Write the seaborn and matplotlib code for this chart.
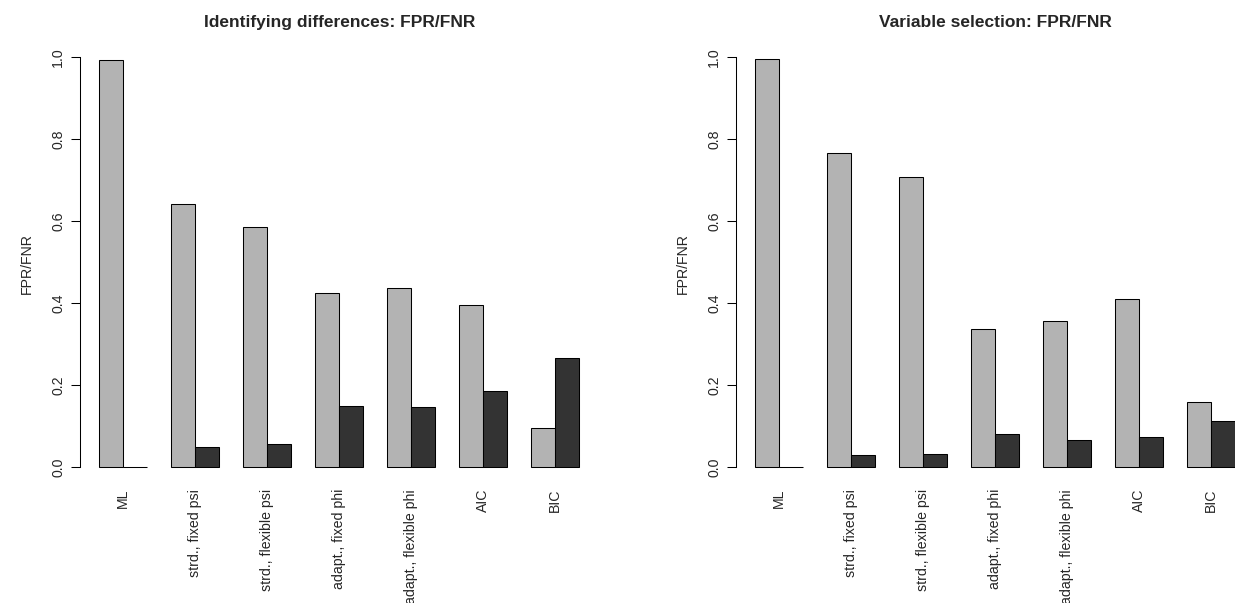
import matplotlib
matplotlib.use("Agg")
import matplotlib.pyplot as plt
import seaborn as sns
import pandas as pd

categories = ["ML", "strd., fixed psi", "strd., flexible psi", "adapt., fixed phi",
              "adapt., flexible phi", "AIC", "BIC"]
left_fpr = [0.993, 0.642, 0.585, 0.424, 0.437, 0.395, 0.095]
left_fnr = [0.0, 0.049, 0.057, 0.149, 0.146, 0.185, 0.266]
right_fpr = [0.994, 0.767, 0.708, 0.337, 0.357, 0.410, 0.158]
right_fnr = [0.0, 0.029, 0.031, 0.080, 0.067, 0.073, 0.112]
titles = ["Identifying differences: FPR/FNR", "Variable selection: FPR/FNR"]
yticks = [0.0, 0.2, 0.4, 0.6, 0.8, 1.0]
ylab = "FPR/FNR"
palette = {"FPR": "#B3B3B3", "FNR": "#333333"}

sns.set_style("white")
plt.rcParams["font.family"] = ["Liberation Sans", "DejaVu Sans"]

W, H, DPI = 1235, 603, 100
fig = plt.figure(figsize=(W / DPI, H / DPI), dpi=DPI)

ax_w = 518.4 / W
top_px, bot_px = 43.1, 483.4
ax_b = 1 - bot_px / H
ax_h = (bot_px - top_px) / H
lefts = [80.0 / W, 735.8 / W]

panels = [(left_fpr, left_fnr), (right_fpr, right_fnr)]
for i, (fpr, fnr) in enumerate(panels):
    ax = fig.add_axes([lefts[i], ax_b, ax_w, ax_h])
    df = pd.DataFrame({
        "method": categories * 2,
        "rate": ["FPR"] * len(categories) + ["FNR"] * len(categories),
        "value": list(fpr) + list(fnr),
    })
    sns.barplot(data=df, x="method", y="value", hue="rate", order=categories,
                hue_order=["FPR", "FNR"], palette=palette, width=2 / 3,
                edgecolor="black", linewidth=0.75, saturation=1,
                errorbar=None, legend=False, ax=ax)
    ax.set_xlim(-0.6, len(categories) - 1 + 0.6)
    ax.set_ylim(-0.04, 1.034)
    for s in ["top", "right", "bottom"]:
        ax.spines[s].set_visible(False)
    ax.spines["left"].set_bounds(0, 1)
    ax.spines["left"].set_color("black")
    ax.spines["left"].set_linewidth(0.75)
    ax.set_yticks(yticks)
    ax.set_yticklabels([f"{t:.1f}" for t in yticks])
    ax.tick_params(axis="y", direction="out", length=6.2, width=0.75, color="black",
                   pad=4.4, labelsize=10.2, labelrotation=90, left=True)
    for lab in ax.get_yticklabels():
        lab.set_va("center")
    ax.tick_params(axis="x", length=0, pad=4, labelsize=10.2, labelrotation=90)
    ax.set_xlabel("")
    ax.set_ylabel(ylab, fontsize=10.2)
    ax.yaxis.set_label_coords(-46.3 / 518.4, 0.5)
    ax.set_title(titles[i], fontsize=12.5, fontweight="bold", pad=11.8)
    ax.grid(False)
    ax.set_facecolor("white")

fig.savefig("out.png", dpi=DPI, facecolor="white")
